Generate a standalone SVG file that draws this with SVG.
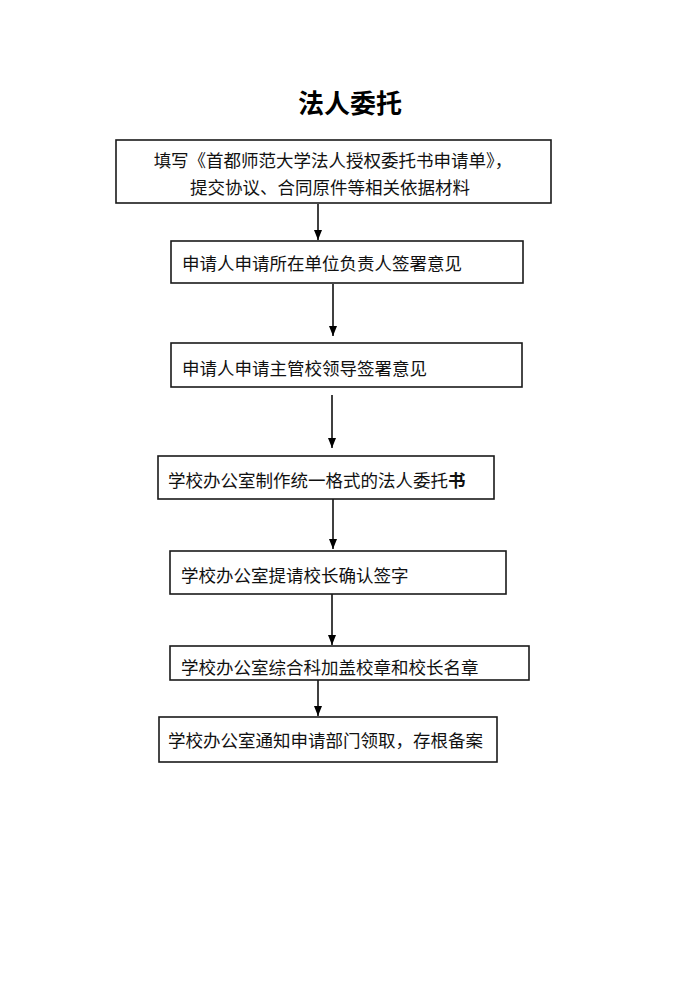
<svg xmlns="http://www.w3.org/2000/svg" width="700" height="990" viewBox="0 0 700 990">
<style>
.box{fill:#fff;stroke:#1a1a1a;stroke-width:1.6}
.t{font-family:"Noto Sans CJK SC","Noto Sans",sans-serif;font-size:17.5px;fill:#111}
.title{font-family:"Noto Sans CJK SC","Noto Sans",sans-serif;font-size:26px;font-weight:bold;fill:#000}
.c{stroke:#000;stroke-width:1.5;fill:none}
</style>
<defs>
<marker id="ah" markerUnits="userSpaceOnUse" markerWidth="10" markerHeight="8" refX="10" refY="4" orient="auto">
<path d="M0,0 L10,4 L0,8 z" fill="#000"/>
</marker>
</defs>
<rect width="700" height="990" fill="#fff"/>
<text class="title" x="350" y="113" text-anchor="middle">法人委托</text>
<g id="connectors">
<line class="c" x1="318" y1="204" x2="318" y2="240" marker-end="url(#ah)"/>
<line class="c" x1="333" y1="284" x2="333" y2="336" marker-end="url(#ah)"/>
<line class="c" x1="332" y1="395" x2="332" y2="448" marker-end="url(#ah)"/>
<line class="c" x1="333" y1="499" x2="333" y2="549" marker-end="url(#ah)"/>
<line class="c" x1="332" y1="594" x2="332" y2="645" marker-end="url(#ah)"/>
<line class="c" x1="318" y1="680" x2="318" y2="716" marker-end="url(#ah)"/>
</g>
<g id="n1">
<rect class="box" x="116" y="140" width="435" height="63"/>
<text class="t" x="333" y="167" text-anchor="middle">填写《首都师范大学法人授权委托书申请单》，</text>
<text class="t" x="330" y="193.5" text-anchor="middle">提交协议、合同原件等相关依据材料</text>
</g>
<g id="n2">
<rect class="box" x="171" y="241" width="352" height="42"/>
<text class="t" x="182" y="269.5">申请人申请所在单位负责人签署意见</text>
</g>
<g id="n3">
<rect class="box" x="171" y="343" width="351" height="44"/>
<text class="t" x="182" y="374.5">申请人申请主管校领导签署意见</text>
</g>
<g id="n4">
<rect class="box" x="158" y="456" width="336" height="43"/>
<text class="t" x="168" y="486.5">学校办公室制作统一格式的法人委托<tspan font-weight="bold">书</tspan></text>
</g>
<g id="n5">
<rect class="box" x="170" y="551" width="336" height="43"/>
<text class="t" x="181" y="581.5">学校办公室提请校长确认签字</text>
</g>
<g id="n6">
<rect class="box" x="170" y="646" width="359" height="34"/>
<text class="t" x="181" y="673.5">学校办公室综合科加盖校章和校长名章</text>
</g>
<g id="n7">
<rect class="box" x="159" y="717" width="338" height="45"/>
<text class="t" x="168" y="746.5">学校办公室通知申请部门领取，存根备案</text>
</g>
</svg>
